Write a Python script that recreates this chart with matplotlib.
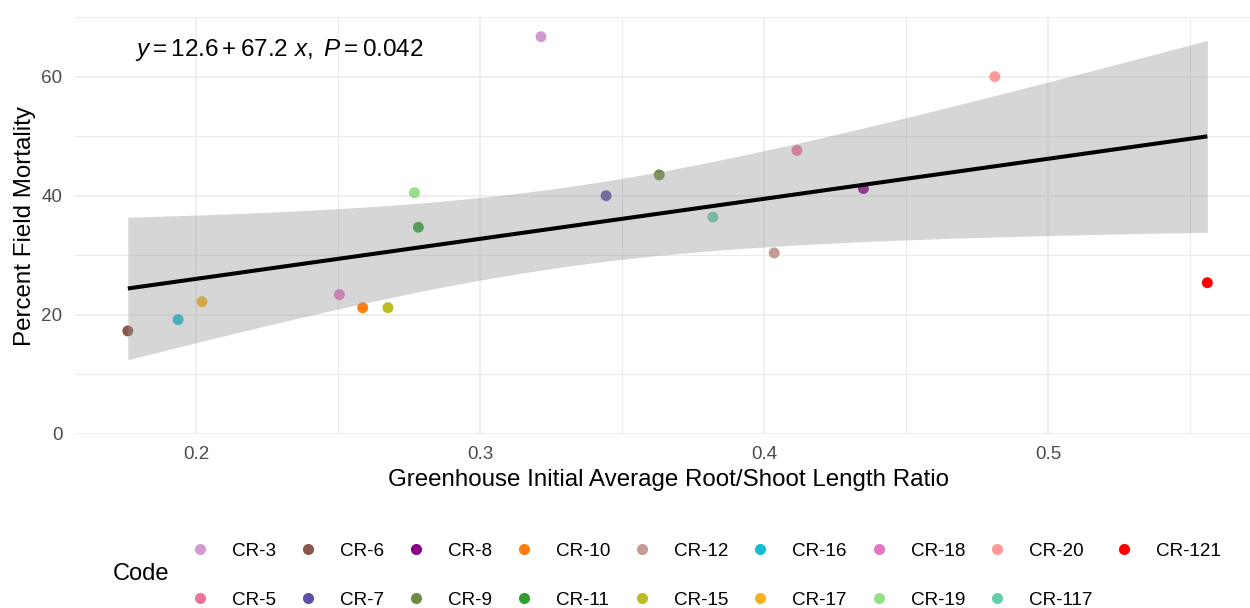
import numpy as np
import matplotlib
matplotlib.use("Agg")
import matplotlib.pyplot as plt
from matplotlib.lines import Line2D

plt.rcParams['font.family'] = ['Liberation Sans', 'DejaVu Sans']
plt.rcParams['mathtext.fontset'] = 'custom'
plt.rcParams['mathtext.rm'] = 'Liberation Sans'
plt.rcParams['mathtext.it'] = 'Liberation Sans:italic'

# root/shoot ratio vs field mortality, one point per code
codes = ['CR-3', 'CR-5', 'CR-6', 'CR-7', 'CR-8', 'CR-9', 'CR-10', 'CR-11', 'CR-12',
         'CR-15', 'CR-16', 'CR-17', 'CR-18', 'CR-19', 'CR-20', 'CR-117', 'CR-121']
root_shoot = [0.3215, 0.4116, 0.176, 0.3444, 0.4350, 0.3631, 0.2587, 0.2783, 0.4036,
              0.2676, 0.1937, 0.2021, 0.2505, 0.2769, 0.4813, 0.3820, 0.5561]
mortality = [66.7, 47.6, 17.3, 40.0, 41.2, 43.5, 21.2, 34.7, 30.4,
             21.2, 19.2, 22.2, 23.4, 40.5, 60.0, 36.4, 25.4]
code_colors = ['#D29AD2', '#EE7399', '#8C564B', '#5B50A5', '#8B008B', '#6E8C41', '#FF7F0E',
               '#2CA02C', '#C49C94', '#BCBD22', '#17BECF', '#F8B31A', '#E377C2', '#98DF8A',
               '#FF9896', '#66CDAA', '#FF0000']

# fitted model as reported
intercept = 12.6
slope = 67.2
p_value = 0.042
t_crit = 2.131  # t(0.975, df=15)

x = np.array(root_shoot)
y = np.array(mortality)
n = len(x)
resid = y - (intercept + slope * x)
s = np.sqrt(np.sum(resid ** 2) / (n - 2))
sxx = np.sum((x - x.mean()) ** 2)
xs = np.linspace(x.min(), x.max(), 100)
fit = intercept + slope * xs
half = t_crit * s * np.sqrt(1 / n + (xs - x.mean()) ** 2 / sxx)

fig = plt.figure(figsize=(12.5, 6.08), dpi=100)
# panel runs a little past the right edge of the figure
ax = fig.add_axes([0.06, 0.2862, 0.9488, 0.6858])

for xi, yi, c in zip(x, y, code_colors):
    ax.scatter(xi, yi, s=62, color=c, edgecolors='none', zorder=3)
ax.fill_between(xs, fit - half, fit + half, color='#999999', alpha=0.4,
                linewidth=0, zorder=4)
ax.plot(xs, fit, color='black', linewidth=2.9, zorder=5, solid_capstyle='butt')

ax.set_xticks([0.2, 0.3, 0.4, 0.5])
ax.set_xticklabels(['0.2', '0.3', '0.4', '0.5'])
ax.set_yticks([0, 20, 40, 60])
ax.set_xticks([0.25, 0.35, 0.45, 0.55], minor=True)
ax.set_yticks([10, 30, 50, 70], minor=True)
ax.set_xlim(0.1574, 0.5750)
ax.set_ylim(0, 70)
ax.grid(which='major', color='#EBEBEB', linewidth=1.1, zorder=0)
ax.grid(which='minor', color='#EBEBEB', linewidth=0.8, zorder=0)
ax.set_axisbelow(True)
for sp in ax.spines.values():
    sp.set_visible(False)
ax.tick_params(which='both', length=0)
ax.tick_params(axis='x', labelsize=13.6, labelcolor='#4D4D4D', pad=9)
ax.tick_params(axis='y', labelsize=13.6, labelcolor='#4D4D4D', pad=9)

ax.set_xlabel('Greenhouse Initial Average Root/Shoot Length Ratio', fontsize=17.4, labelpad=4)
ax.set_ylabel('Percent Field Mortality', fontsize=17.4, labelpad=3.7)

ax.text(0.0506, 0.9065,
        r'$\it{y}$$ = 12.6 + 67.2\ $$\it{x}$$,\ $$\it{P}$$ = 0.042$',
        transform=ax.transAxes, fontsize=17.5, ha='left', va='baseline')

handles = [Line2D([], [], linestyle='none', marker='o', markersize=8,
                  markerfacecolor=c, markeredgecolor='none') for c in code_colors]
fig.legend(handles, codes, ncol=9, loc='center left',
           bbox_to_anchor=(0.1539, 0.0532), frameon=False, fontsize=13.6,
           handlelength=0.8, handletextpad=1.29, columnspacing=1.29,
           labelspacing=1.69, borderpad=0, borderaxespad=0)
fig.text(113 / 1250, 1 - 574 / 608, 'Code', fontsize=17, ha='left', va='center')

fig.savefig('out.png', dpi=100)
